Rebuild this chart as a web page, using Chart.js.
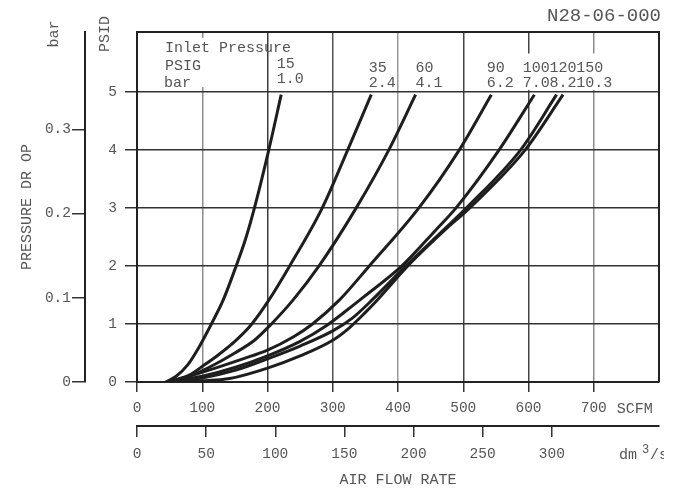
<!DOCTYPE html>
<html><head><meta charset="utf-8">
<script src="https://cdn.jsdelivr.net/npm/chart.js@4/dist/chart.umd.min.js"></script>
<style>html,body{margin:0;padding:0;background:#fff}canvas{display:block}</style>
</head><body>
<canvas id="c" width="681" height="491"></canvas>
<script>
// ---- data ----
const inletPsig = ['15', '35', '60', '90', '100', '120', '150'];
const inletBar  = ['1.0', '2.4', '4.1', '6.2', '7.0', '8.2', '10.3'];

const flow15  = [44, 60, 78, 95, 114, 132, 152, 166, 180, 202, 221];
const dp15    = [0, 0.1, 0.3, 0.6, 1.0, 1.41, 2.0, 2.45, 3.0, 4.0, 4.95];
const flow35  = [48, 80, 104, 125, 150, 176, 202, 234, 284, 323, 359];
const dp35    = [0, 0.12, 0.3, 0.47, 0.7, 1.0, 1.41, 2.0, 3.0, 4.0, 4.95];
const flow60  = [50, 80, 110, 150, 180, 206, 239, 279, 336, 386, 427];
const dp60    = [0, 0.1, 0.25, 0.5, 0.72, 1.0, 1.41, 2.0, 3.0, 4.0, 4.95];
const flow90  = [46, 80, 120, 160, 200, 240, 269, 310, 356, 432, 494, 543];
const dp90    = [0, 0.1, 0.24, 0.39, 0.55, 0.78, 1.0, 1.41, 2.0, 3.0, 4.0, 4.95];
const flow100 = [48, 100, 150, 200, 250, 290, 322, 348, 406, 458, 489, 555, 609];
const dp100   = [0, 0.1, 0.25, 0.45, 0.7, 0.97, 1.24, 1.47, 2.0, 2.62, 3.0, 4.0, 4.95];
const flow120 = [50, 100, 150, 200, 250, 300, 330, 360, 412, 470, 505, 588, 643];
const dp120   = [0, 0.07, 0.2, 0.4, 0.62, 0.88, 1.1, 1.41, 2.0, 2.62, 3.0, 4.0, 4.95];
const flow150 = [52, 100, 142, 200, 250, 300, 325, 350, 368, 415, 472, 510, 595, 653];
const dp150   = [0, 0.02, 0.06, 0.24, 0.45, 0.72, 0.93, 1.2, 1.41, 2.0, 2.62, 3.0, 4.0, 4.95];

const scfmTicks = [0, 100, 200, 300, 400, 500, 600, 700];
const dm3sTicks = [0, 50, 100, 150, 200, 250, 300];
const psidTicks = [0, 1, 2, 3, 4, 5];
const barTicks  = [0, 0.1, 0.2, 0.3];

// unit conversions
const PSI_PER_BAR = 14.5038;
const DM3S_PER_SCFM = 0.4719;
const X_MAX = 800, Y_MAX = 6.03;

// ---- styling ----
const FONT = "'Liberation Mono', 'Courier New', monospace";
const TXT = '#555';
const LINE = '#222';
const vGridColor = {0: '#222', 100: '#8c8c8c', 200: '#3c3c3c', 300: '#555', 400: '#9a9a9a', 500: '#444', 600: '#444', 700: '#8c8c8c'};
// label-block positions (in SCFM units) for the inlet-pressure numbers
const labelFlow = [214, 355, 427, 536, 591, 632, 673];

const curves = [
  [flow15, dp15], [flow35, dp35], [flow60, dp60], [flow90, dp90],
  [flow100, dp100], [flow120, dp120], [flow150, dp150]
];
const datasets = curves.map(([f, d], i) => ({
  label: inletPsig[i] + ' PSIG',
  data: f.map((v, k) => ({x: v, y: d[k]})),
  borderColor: '#1e1e1e', borderWidth: 3, pointRadius: 0,
  cubicInterpolationMode: 'monotone', fill: false,
  xAxisID: 'x', yAxisID: 'y'
}));

const tickFont = {family: FONT, size: 14.5, lineHeight: 1.2};
const titleFont = {family: FONT, size: 15, lineHeight: 1.2};

const decor = {
  id: 'decor',
  beforeDatasetsDraw(chart) {
    const {ctx, chartArea: a, scales: {x, y}} = chart;
    ctx.save();
    // gaps in the vertical grid lines behind the label block
    ctx.fillStyle = '#fff';
    const gap = (v, p0, p1) => {
      const px = x.getPixelForValue(v);
      const t = y.getPixelForValue(p1), b = y.getPixelForValue(p0);
      ctx.fillRect(px - 3, t, 6, b - t);
    };
    gap(100, 5.08, 5.93);
    gap(600, 5.03, 5.66);
    gap(700, 5.03, 5.66);
    // top and right frame
    ctx.strokeStyle = LINE; ctx.lineWidth = 2;
    ctx.beginPath();
    ctx.moveTo(a.left - 1, a.top); ctx.lineTo(a.right, a.top); ctx.lineTo(a.right, a.bottom);
    ctx.stroke();
    ctx.restore();
  },
  afterDraw(chart) {
    const {ctx, scales: {x, x2}} = chart;
    ctx.save();
    ctx.fillStyle = TXT;
    ctx.textBaseline = 'alphabetic';
    // drawing number
    ctx.font = "19px " + FONT;
    ctx.textAlign = 'right';
    ctx.fillText('N28-06-000', 661, 21);
    // label block
    ctx.font = "15px " + FONT;
    ctx.textAlign = 'left';
    ctx.fillText('Inlet Pressure', 165, 52);
    ctx.fillText('PSIG', 165, 70);
    ctx.fillText('bar', 164, 87);
    inletPsig.forEach((p, i) => {
      const px = x.getPixelForValue(labelFlow[i]);
      const off = i === 0 ? -4 : 0;
      ctx.fillText(p, px, 72 + off);
      ctx.fillText(inletBar[i], px, 87 + off);
    });
    // unit labels on the flow axes
    ctx.fillText('SCFM', x.getPixelForValue(700) + 23, x.top + 31);
    ctx.save();
    ctx.beginPath(); ctx.rect(0, 0, 664, 491); ctx.clip();
    const ux = 619, uy = x2.top + 33;
    ctx.fillText('dm', ux, uy);
    ctx.font = "12px " + FONT;
    ctx.fillText('3', ux + 23, uy - 6);
    ctx.font = "15px " + FONT;
    ctx.fillText('/s', ux + 31, uy);
    ctx.restore();
    // rotated unit labels of the pressure axes
    ctx.font = "15px " + FONT;
    ctx.textAlign = 'center'; ctx.textBaseline = 'middle';
    [['bar', 54, 34], ['PSID', 105, 34]].forEach(([t, cx, cy]) => {
      ctx.save(); ctx.translate(cx, cy); ctx.rotate(-Math.PI / 2);
      ctx.fillText(t, 0, 0); ctx.restore();
    });
    ctx.restore();
  }
};

new Chart(document.getElementById('c'), {
  type: 'line',
  data: {datasets},
  options: {
    responsive: false, animation: false, devicePixelRatio: 1,
    layout: {padding: {top: 32, right: 22, bottom: 0, left: 0}},
    plugins: {legend: {display: false}, tooltip: {enabled: false}, title: {display: false}},
    scales: {
      x: {
        type: 'linear', position: 'bottom', weight: 0, min: 0, max: X_MAX,
        afterBuildTicks: s => { s.ticks = scfmTicks.map(v => ({value: v})); },
        afterFit: s => { s.height = 44; },
        ticks: {font: tickFont, color: TXT, padding: 7, maxRotation: 0, autoSkip: false, callback: v => String(v)},
        grid: {drawOnChartArea: true, color: c => vGridColor[c.tick ? c.tick.value : 0] || '#666', lineWidth: 1.5, tickLength: 10, tickColor: '#333'},
        border: {display: true, color: LINE, width: 2}
      },
      x2: {
        type: 'linear', position: 'bottom', weight: 1, min: 0, max: X_MAX * DM3S_PER_SCFM,
        afterBuildTicks: s => { s.ticks = dm3sTicks.map(v => ({value: v})); },
        afterFit: s => { s.height = 65; },
        ticks: {font: tickFont, color: TXT, padding: 8, maxRotation: 0, autoSkip: false, callback: v => String(v)},
        grid: {drawOnChartArea: false, color: '#333', lineWidth: 1.5, tickLength: 11},
        border: {display: true, color: LINE, width: 2},
        title: {display: true, text: 'AIR FLOW RATE', font: titleFont, color: TXT, padding: {top: 0, bottom: 2}}
      },
      y: {
        type: 'linear', position: 'left', weight: 0, min: 0, max: Y_MAX,
        afterBuildTicks: s => { s.ticks = psidTicks.map(v => ({value: v})); },
        afterFit: s => { s.width = 52; },
        ticks: {font: tickFont, color: TXT, padding: 8, autoSkip: false, callback: v => String(v)},
        grid: {drawOnChartArea: true, color: '#333', lineWidth: 1.5, tickLength: 12},
        border: {display: true, color: LINE, width: 2}
      },
      y2: {
        type: 'linear', position: 'left', weight: 1, min: 0, max: Y_MAX / PSI_PER_BAR,
        afterBuildTicks: s => { s.ticks = barTicks.map(v => ({value: v})); },
        afterFit: s => { s.width = 85; },
        ticks: {font: tickFont, color: TXT, padding: 1, autoSkip: false, callback: v => v === 0 ? '0' : v.toFixed(1)},
        grid: {drawOnChartArea: false, color: '#333', lineWidth: 1.5, tickLength: 13},
        border: {display: true, color: LINE, width: 2},
        title: {display: true, text: 'PRESSURE DR OP', font: titleFont, color: TXT, padding: {top: 18, bottom: 0}}
      }
    }
  },
  plugins: [decor]
});
</script>
</body></html>
